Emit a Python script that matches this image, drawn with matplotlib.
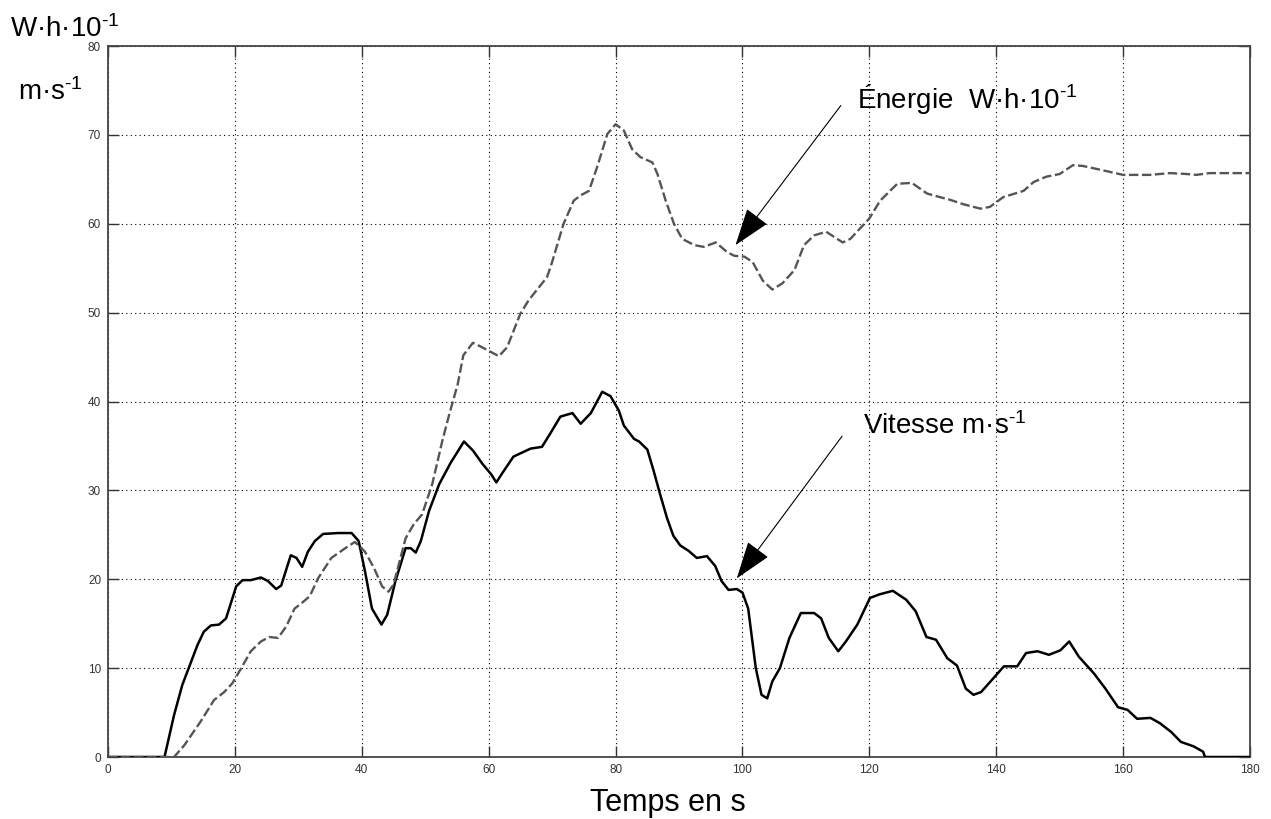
import matplotlib
matplotlib.use('Agg')
import matplotlib.pyplot as plt

plt.rcParams['font.family'] = ['Liberation Sans', 'DejaVu Sans']
plt.rcParams['mathtext.fontset'] = 'custom'
plt.rcParams['mathtext.rm'] = 'Liberation Sans'
plt.rcParams['mathtext.it'] = 'Liberation Sans'

# speed (m/s), solid black
time_v = [0, 8.9, 10.4, 11.7, 14.1, 15.1, 16.2, 17.5, 18.6, 20.2, 21.2, 22.5, 24.1, 25.2,
          26.5, 27.3, 28.8, 29.7, 30.6, 31.5, 32.6, 33.9, 36.3, 38.4, 39.5, 40.5, 41.6,
          43.1, 44.0, 45.3, 46.9, 47.7, 48.5, 49.3, 50.6, 52.2, 54.0, 56.1, 57.5, 59.0,
          60.4, 61.2, 62.2, 63.9, 66.6, 68.4, 69.7, 71.3, 73.2, 74.5, 76.1, 77.9, 79.2,
          80.5, 81.3, 82.9, 83.7, 85.0, 86.0, 87.0, 88.1, 89.1, 90.2, 91.5, 92.8, 94.4,
          95.7, 96.7, 97.8, 99.1, 100.0, 100.9, 102.1, 103.0, 103.9, 104.7, 105.9, 107.4,
          109.2, 111.3, 112.4, 113.6, 115.1, 116.3, 118.1, 120.1, 121.6, 123.7, 125.8,
          127.3, 129.0, 130.5, 132.3, 133.8, 135.2, 136.4, 137.6, 139.1, 141.2, 143.3,
          144.7, 146.5, 148.3, 150.1, 151.5, 153.0, 155.4, 157.2, 159.2, 160.7, 162.2,
          164.3, 165.8, 167.6, 169.1, 171.1, 172.6, 172.9, 180]
vitesse = [0, 0, 4.7, 8.1, 12.6, 14.1, 14.8, 14.9, 15.6, 19.2, 19.9, 19.9, 20.2, 19.8,
           18.9, 19.3, 22.7, 22.4, 21.4, 23.1, 24.3, 25.1, 25.2, 25.2, 24.3, 20.9, 16.7,
           14.9, 16.0, 19.8, 23.5, 23.5, 23.0, 24.3, 27.7, 30.7, 33.1, 35.5, 34.5, 33.0,
           31.8, 30.9, 32.0, 33.8, 34.7, 34.9, 36.4, 38.3, 38.7, 37.5, 38.7, 41.1, 40.6,
           39.0, 37.3, 35.8, 35.5, 34.6, 32.2, 29.6, 26.9, 24.9, 23.8, 23.2, 22.4, 22.6,
           21.5, 19.8, 18.8, 18.9, 18.5, 16.7, 10.0, 7.0, 6.6, 8.5, 10.0, 13.4,
           16.2, 16.2, 15.6, 13.4, 11.9, 13.0, 14.9, 17.9, 18.3, 18.7, 17.7,
           16.4, 13.5, 13.2, 11.1, 10.3, 7.7, 7.0, 7.3, 8.5, 10.2, 10.2,
           11.7, 11.9, 11.5, 12.0, 13.0, 11.3, 9.4, 7.7, 5.6, 5.3, 4.3,
           4.4, 3.8, 2.8, 1.7, 1.2, 0.6, 0, 0]

# energy (W.h x 10^-1), dashed grey
time_e = [0, 10.4, 12.0, 14.6, 16.7, 18.3, 19.6, 21.0, 22.5, 24.1, 25.4, 26.8, 28.1, 29.4,
          30.5, 31.8, 33.1, 35.2, 37.4, 38.9, 40.5, 41.9, 43.2, 44.2, 45.0, 46.9, 48.2,
          49.5, 51.1, 52.7, 53.8, 55.1, 56.0, 57.5, 58.7, 61.6, 62.9, 65.0, 66.3, 69.2,
          70.0, 71.8, 73.4, 74.5, 75.8, 77.1, 78.7, 80.0, 81.3, 82.6, 83.9, 85.8, 86.6,
          87.9, 89.2, 90.5, 92.4, 93.9, 95.8, 97.6, 98.7, 100.3, 101.6, 103.2, 104.7,
          106.3, 108.2, 109.7, 111.3, 113.2, 115.8, 117.0, 120.0, 121.7, 124.4, 126.7,
          129.1, 130.6, 132.7, 134.8, 137.5, 139.0, 141.1, 144.3, 145.9, 147.9, 150.0,
          152.1, 153.7, 156.9, 160.0, 164.2, 167.4, 170.0, 171.5, 173.6, 180]
energie = [0, 0, 1.3, 4.0, 6.4, 7.3, 8.3, 10.0, 11.9, 13.0, 13.5, 13.4, 14.7, 16.7,
           17.3, 18.1, 20.1, 22.4, 23.5, 24.2, 23.1, 21.3, 19.2, 18.6, 19.4, 24.6, 26.2,
           27.3, 30.7, 35.6, 38.6, 41.9, 45.2, 46.6, 46.2, 45.1, 46.1, 49.9, 51.4, 54.0,
           55.7, 60.0, 62.6, 63.2, 63.7, 66.4, 70.1, 71.2, 70.5, 68.4, 67.5, 66.9, 65.6,
           62.6, 60.0, 58.3, 57.6, 57.4, 57.9, 56.8, 56.4, 56.3, 55.7, 53.6, 52.6,
           53.3, 54.8, 57.6, 58.7, 59.1, 57.9, 58.3, 60.6, 62.6, 64.5, 64.6,
           63.4, 63.1, 62.7, 62.2, 61.7, 61.9, 63.0, 63.7, 64.7, 65.3, 65.6,
           66.6, 66.5, 66.0, 65.5, 65.5, 65.7, 65.6, 65.5, 65.7, 65.7]

x_ticks = list(range(0, 181, 20))
y_ticks = list(range(0, 81, 10))

fig = plt.figure(figsize=(12.71, 8.19), dpi=100)
ax = fig.add_axes([0.085, 0.0757, 0.8985, 0.8681])

ax.plot(time_v, vitesse, color='black', lw=1.8, zorder=3)
ax.plot(time_e, energie, color='#555555', lw=1.7, ls=(0, (4, 1.5)), zorder=3)

ax.set_xlim(0, 180)
ax.set_ylim(0, 80)
ax.set_xticks(x_ticks)
ax.set_yticks(y_ticks)
ax.grid(True, color='black', ls=(0, (1, 3)), lw=0.8)
ax.tick_params(direction='in', length=8, width=1, top=True, right=True, pad=5,
               labelsize=8.5, colors='#333333')
for lab in ax.get_xticklabels() + ax.get_yticklabels():
    lab.set_family(['Liberation Sans Narrow', 'Liberation Sans', 'DejaVu Sans'])
for s in ax.spines.values():
    s.set_color('#444444')
    s.set_linewidth(1.3)

arrow = dict(arrowstyle='-|>,head_length=1.6,head_width=0.55', color='black', lw=0.8,
             shrinkA=0, shrinkB=0, mutation_scale=15)
ax.annotate('', xy=(98.9, 57.6), xytext=(115.5, 73.3), arrowprops=arrow)
ax.annotate('', xy=(99.1, 20.1), xytext=(115.7, 36.1), arrowprops=arrow)

ax.text(118.0, 73.0, r'Énergie  W·h·10$^{\text{-1}}$', fontsize=20, va='baseline')
ax.text(119.0, 36.4, r'Vitesse m·s$^{\text{-1}}$', fontsize=20, va='baseline')

fig.text(0.0079, 0.9548, r'W·h·10$^{\text{-1}}$', fontsize=20, va='baseline')
fig.text(0.0142, 0.8779, r'm·s$^{\text{-1}}$', fontsize=20, va='baseline')
fig.text(0.5256, 0.0095, 'Temps en s', fontsize=22, ha='center', va='baseline')

fig.savefig('out.png', dpi=100)
